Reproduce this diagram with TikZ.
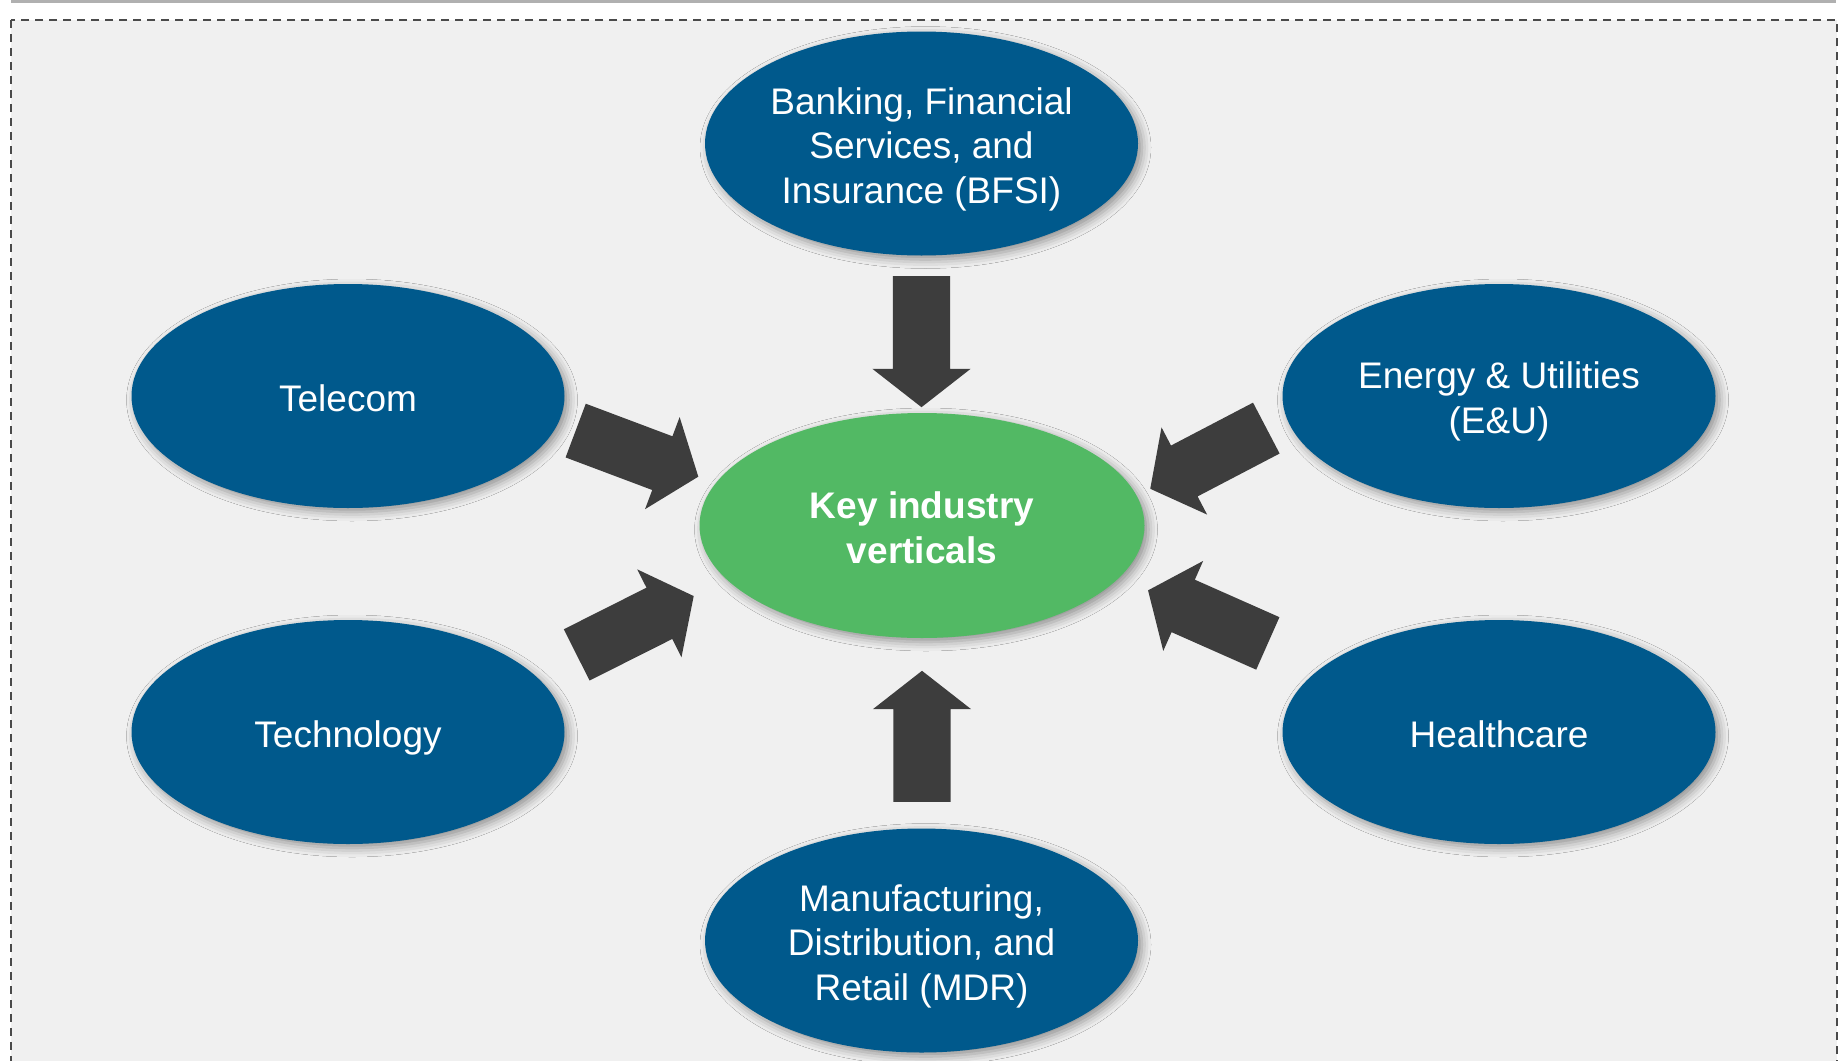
\documentclass[tikz,border=0pt]{standalone}
\usepackage{fontspec}
\setmainfont{Liberation Sans}
\usepackage{tikz}
\usetikzlibrary{shapes.geometric,shapes.arrows,shadows.blur}
\definecolor{vblue}{HTML}{00598C}
\definecolor{vgreen}{HTML}{52B964}
\definecolor{varrow}{HTML}{3D3D3D}
\definecolor{vpanel}{HTML}{F0F0F0}
\definecolor{vrule}{HTML}{B0B0B0}
\definecolor{vdash}{HTML}{4A4A4A}
\newcommand{\toprule}{\rule{0pt}{39.5pt}}
\newcommand{\botrule}{\rule[-9pt]{0pt}{9pt}}

\begin{document}
\begin{tikzpicture}[x=1pt,y=1pt]
\tikzstyle{every node}+=[inner sep=0pt]
\tikzstyle{sector}=[ellipse, fill=vblue, text=white, minimum width=433pt, minimum height=224pt, align=center, font=\fontsize{37}{44.6}\selectfont, blur shadow={shadow xshift=4pt, shadow yshift=-4pt, shadow blur radius=9pt, shadow opacity=40}]
\tikzstyle{hub}=[sector, fill=vgreen, minimum width=445pt, minimum height=225pt, font=\fontsize{37}{44.6}\selectfont\bfseries]
\tikzstyle{push}=[single arrow, fill=varrow, inner xsep=0pt, inner ysep=28.5pt, minimum height=131pt, single arrow head extend=20.5pt, single arrow tip angle=104, anchor=tail]
\useasboundingbox (0,0) rectangle (1841,-1060);
\fill [white] (0,0) rectangle (1841,-1060);
\draw [vrule, line width=3pt] (11,-1.5) -- (1836,-1.5);
\draw [fill=vpanel, draw=vdash, line width=2pt, dash pattern=on 8pt off 6pt] (11,-20) rectangle (1837,-1080);
\draw (921.5,-143.5) node [sector] (bfsi) {\toprule Banking, Financial\\Services, and\\Insurance (BFSI)\botrule};
\draw (348,-396) node [sector] (telecom) {\toprule Telecom\botrule};
\draw (1499,-396) node [sector] (energy) {\toprule Energy \& Utilities\\(E\&U)\botrule};
\draw (348,-732) node [sector] (tech) {\toprule Technology\botrule};
\draw (1499,-732) node [sector] (health) {\toprule Healthcare\botrule};
\draw (921.5,-940.5) node [sector] (mdr) {\toprule Manufacturing,\\Distribution, and\\Retail (MDR)\botrule};
\draw (922,-525.5) node [hub] (key) {\toprule Key industry\\verticals\botrule};
\draw (921.5,-276) node [push, rotate=-90] (a-bfsi) {};
\draw (922,-802) node [push, rotate=90] (a-mdr) {};
\draw (575.5,-430.5) node [push, rotate=-20.6] (a-telecom) {};
\draw (576.5,-655) node [push, rotate=26.7] (a-tech) {};
\draw (1266.5,-428) node [push, rotate=-152.4] (a-energy) {};
\draw (1268,-643.5) node [push, rotate=156.1] (a-health) {};
\end{tikzpicture}
\end{document}
